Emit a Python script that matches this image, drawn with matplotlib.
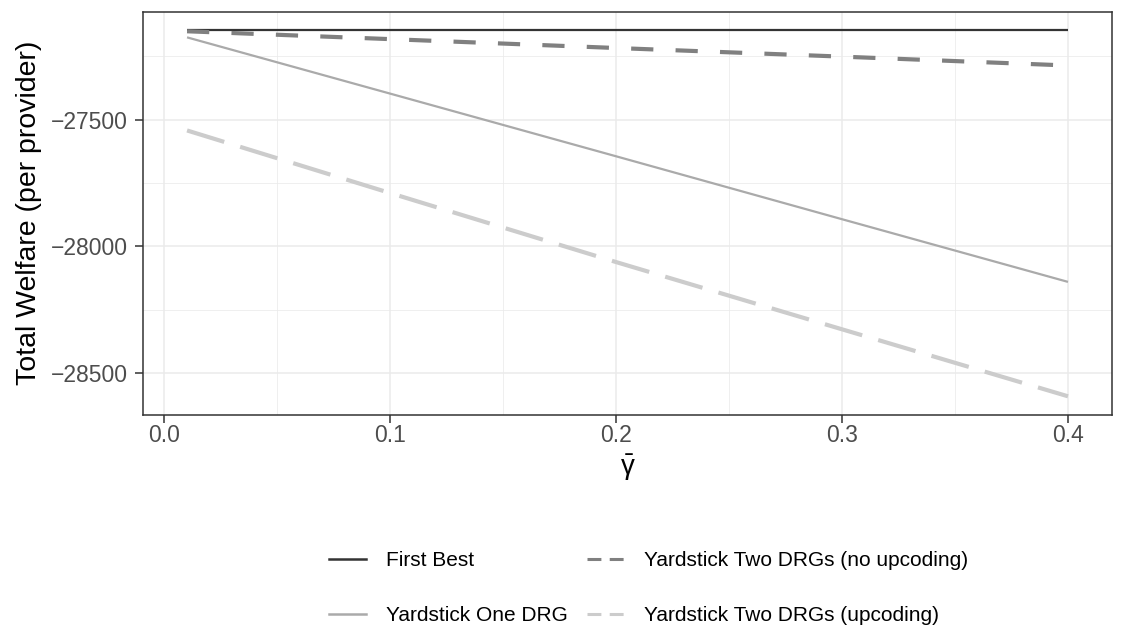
import matplotlib
matplotlib.use('Agg')
from matplotlib import pyplot as plt
from matplotlib.lines import Line2D
from matplotlib.ticker import MultipleLocator

plt.rcParams['font.family'] = ['Liberation Sans', 'DejaVu Sans']
plt.rcParams['lines.scale_dashes'] = False
plt.rcParams['mathtext.fontset'] = 'custom'
plt.rcParams['mathtext.rm'] = 'Liberation Sans'
plt.rcParams['mathtext.it'] = 'Liberation Sans'

# values
gamma_bar = [0.01, 0.1, 0.2, 0.3, 0.4]
first_best = [-27148, -27148, -27148, -27148, -27148]
one_drg = [-27176, -27398, -27645, -27893, -28140]
two_drg_no_up = [-27152, -27183, -27218, -27252, -27287]
two_drg_up = [-27543, -27790, -28062, -28327, -28591]

labels = ['First Best', 'Yardstick One DRG',
          'Yardstick Two DRGs (no upcoding)', 'Yardstick Two DRGs (upcoding)']
colors = ['#333333', '#aaaaaa', '#808080', '#cccccc']

fig = plt.figure(figsize=(11.26, 6.31), dpi=100)
ax = fig.add_axes([0.127, 0.343, 0.8606, 0.638])

ax.plot(gamma_bar, first_best, color=colors[0], lw=1.6, solid_capstyle='butt')
ax.plot(gamma_bar, one_drg, color=colors[1], lw=1.6, solid_capstyle='butt')
ax.plot(gamma_bar, two_drg_no_up, color=colors[2], lw=3.0, dashes=(16, 16),
        dash_capstyle='butt')
ax.plot(gamma_bar, two_drg_up, color=colors[3], lw=3.0, dashes=(28, 12),
        dash_capstyle='butt')

ax.set_xlim(-0.0095, 0.4195)
ax.set_ylim(-28663, -27076)
ax.xaxis.set_minor_locator(MultipleLocator(0.05))
ax.yaxis.set_minor_locator(MultipleLocator(250))
ax.set_xticks([0.0, 0.1, 0.2, 0.3, 0.4])
ax.set_xticklabels(['0.0', '0.1', '0.2', '0.3', '0.4'])
ax.set_yticks([-27500, -28000, -28500])
ax.set_yticklabels(['\u221227500', '\u221228000', '\u221228500'])

ax.grid(which='major', color='#ebebeb', lw=1.1)
ax.grid(which='minor', color='#ebebeb', lw=0.55)
ax.set_axisbelow(True)
for s in ax.spines.values():
    s.set_color('#333333')
    s.set_linewidth(1.1)
ax.tick_params(which='major', length=5.5, width=1.1, color='#333333',
               labelsize=16.5, labelcolor='#4d4d4d')
ax.tick_params(axis='x', pad=1.5)
ax.tick_params(axis='y', pad=5.5)
ax.tick_params(which='minor', length=0)

ax.set_xlabel(r'$\bar{\gamma}$', fontsize=20, labelpad=4)
ax.set_ylabel('Total Welfare (per provider)', fontsize=20.5, labelpad=6)

# legend keys are drawn thinner with short dashes, as in the original
handles = [
    Line2D([], [], color=colors[0], lw=1.8),
    Line2D([], [], color=colors[1], lw=1.8),
    Line2D([], [], color=colors[2], lw=2.2, dashes=(10, 6)),
    Line2D([], [], color=colors[3], lw=2.2, dashes=(10, 6)),
]
fig.legend(handles, labels, loc='center', bbox_to_anchor=(0.576, 0.068),
           ncol=2, frameon=False, fontsize=15, handlelength=1.75,
           handletextpad=0.95, columnspacing=0.95, labelspacing=1.75)

fig.savefig('out.png', dpi=100)
